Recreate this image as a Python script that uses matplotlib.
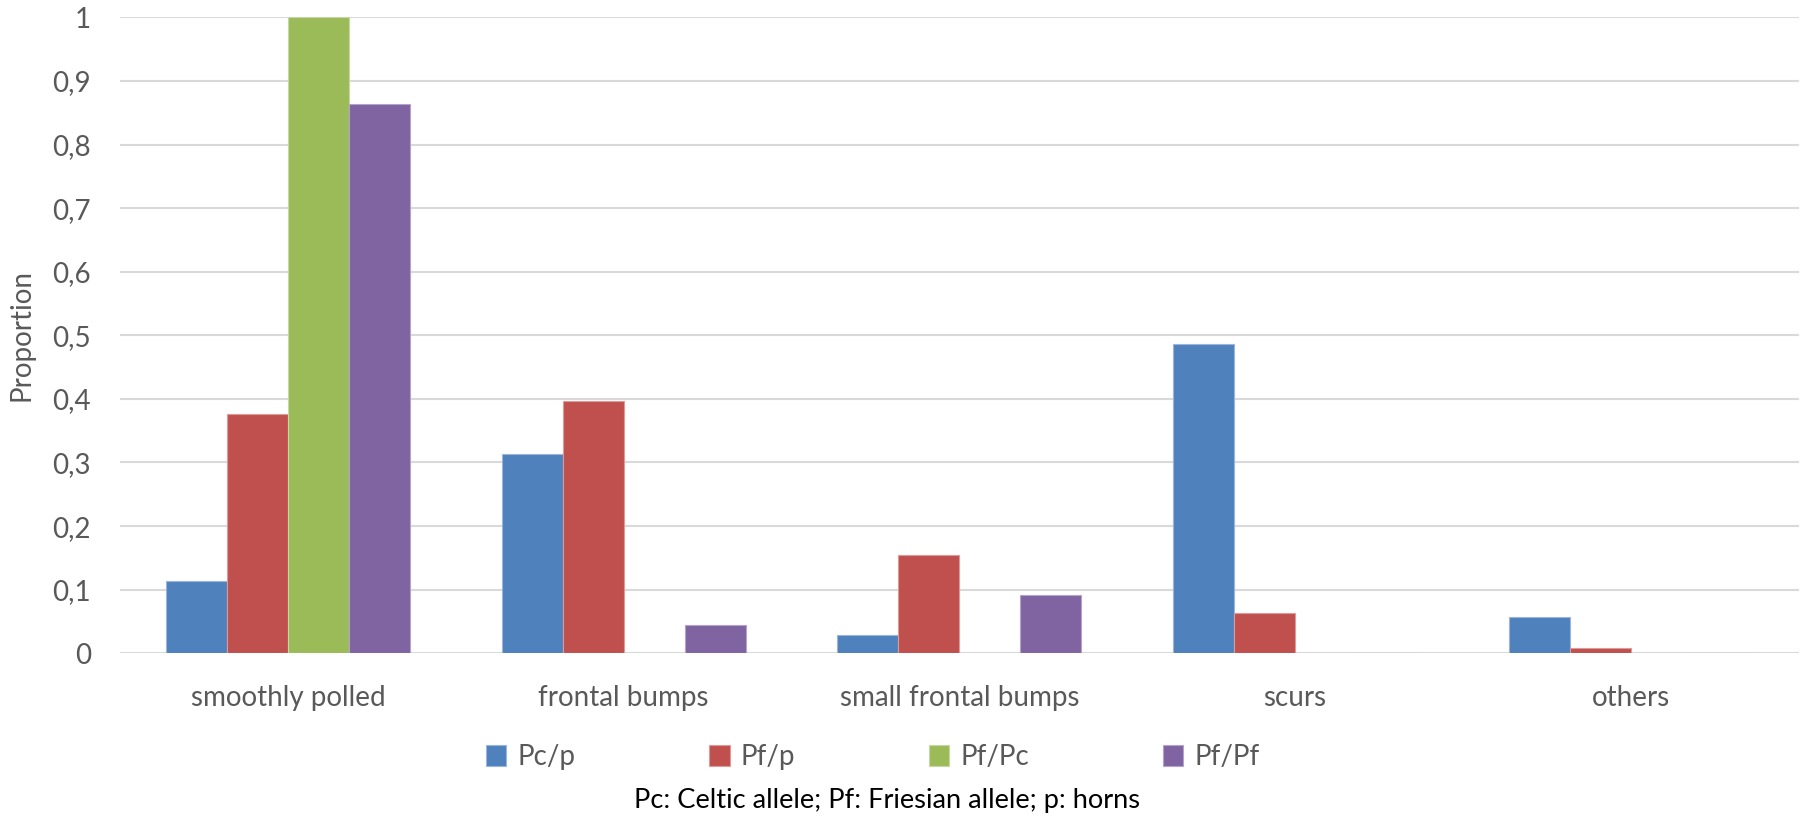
import numpy as np
import matplotlib.pyplot as plt
from matplotlib.ticker import FuncFormatter

# Horn phenotype proportions per genotype
categories = ["smoothly polled", "frontal bumps", "small frontal bumps", "scurs", "others"]
genotypes = ["Pc/p", "Pf/p", "Pf/Pc", "Pf/Pf"]
pc_p = [0.114, 0.313, 0.029, 0.486, 0.057]
pf_p = [0.376, 0.396, 0.155, 0.063, 0.008]
pf_pc = [1.0, 0.0, 0.0, 0.0, 0.0]
pf_pf = [0.863, 0.045, 0.091, 0.0, 0.0]

colors = ["#4F81BD", "#C0504D", "#9BBB59", "#8064A2"]
edge_colors = ["#9DB5DA", "#DE9A98", "#C5D8A4", "#B3A2C9"]
text_gray = "#595959"

plt.rcParams["font.family"] = ["Lato", "DejaVu Sans"]

fig = plt.figure(figsize=(18.03, 8.17), dpi=100)
ax = fig.add_axes([0.0666, 0.2004, 0.931, 0.7784])

x = np.arange(len(categories))
width = 1 / 5.5
series = [pc_p, pf_p, pf_pc, pf_pf]
for i, (vals, name) in enumerate(zip(series, genotypes)):
    offset = (i - 1.5) * width
    ax.bar(
        x + offset,
        vals,
        width,
        color=colors[i],
        edgecolor=edge_colors[i],
        linewidth=0.8,
        label=name,
        zorder=3,
    )

ax.set_xlim(-0.5, len(categories) - 0.5)
ax.set_ylim(0, 1)
ax.set_yticks(np.arange(0, 1.01, 0.1))
ax.yaxis.set_major_formatter(
    FuncFormatter(lambda v, _: "0" if abs(v) < 1e-9 else ("1" if abs(v - 1) < 1e-9 else f"{v:.1f}".replace(".", ",")))
)
ax.set_xticks(x)
ax.set_xticklabels(categories)

ax.grid(axis="y", color="#D9D9D9", linewidth=1.5, zorder=0)
ax.set_axisbelow(True)
for spine in ax.spines.values():
    spine.set_visible(False)
ax.tick_params(axis="both", length=0, labelsize=20, colors=text_gray)
ax.tick_params(axis="y", pad=21)
ax.tick_params(axis="x", pad=23)

ax.set_ylabel("Proportion", fontsize=20, color=text_gray)
ax.yaxis.set_label_coords(-0.051, 0.5)

fig.legend(
    loc="center",
    bbox_to_anchor=(0.484, 0.073),
    ncol=4,
    frameon=False,
    fontsize=20,
    handlelength=0.75,
    handleheight=0.75,
    handletextpad=0.4,
    columnspacing=4.8,
    labelcolor=text_gray,
)

fig.text(0.492, 0.02, "Pc: Celtic allele; Pf: Friesian allele; p: horns",
         ha="center", va="center", fontsize=19.6, color="black")

fig.savefig("out.png", dpi=100)
